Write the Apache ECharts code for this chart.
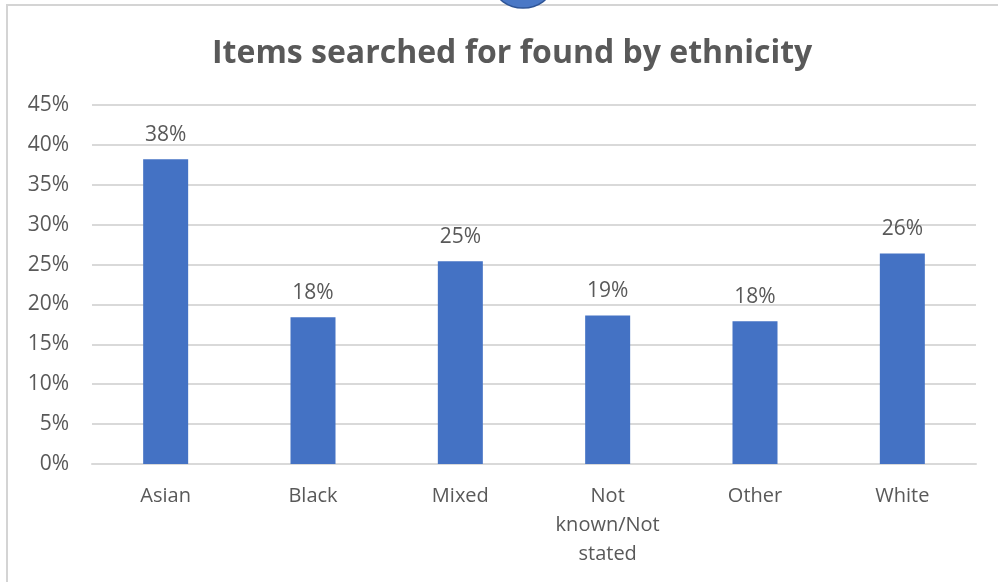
<!DOCTYPE html>
<html>
<head>
<meta charset="utf-8">
<title>Items searched for found by ethnicity</title>
<script src="https://cdn.jsdelivr.net/npm/echarts@6/dist/echarts.min.js"></script>
<style>
  html, body { margin: 0; padding: 0; background: #ffffff; }
  #chart { width: 998px; height: 582px; }
</style>
</head>
<body>
<div id="chart"></div>
<script>
// Share of searched-for items found, by ethnic group (percent)
const categories = ['Asian', 'Black', 'Mixed', 'Not known/Not stated', 'Other', 'White'];
const foundPct = [38.2, 18.4, 25.4, 18.6, 17.9, 26.4];
const titleText = 'Items searched for found by ethnicity';

const textGrey = '#595959';
const gridGrey = '#d9d9d9';
const barBlue = '#4472C4';
const font = '"Open Sans", "Noto Sans", sans-serif';

const chart = echarts.init(document.getElementById('chart'), null, { renderer: 'canvas' });

chart.setOption({
  backgroundColor: '#ffffff',
  animation: false,
  title: {
    text: titleText,
    left: 207,
    top: 33,
    textStyle: { fontFamily: font, fontSize: 32, fontWeight: 'bold', color: textGrey }
  },
  graphic: [
    // chart frame
    {
      type: 'rect',
      shape: { x: 7, y: 5, width: 1200, height: 800 },
      style: { fill: 'none', stroke: '#d4d4d4', lineWidth: 2 },
      silent: true
    },
    // selection handle peeking at the top edge
    {
      type: 'ellipse',
      shape: { cx: 523, cy: -13, rx: 28, ry: 21 },
      style: { fill: '#4a78c6', stroke: '#2f5597', lineWidth: 1.5 },
      silent: true
    }
  ],
  grid: { left: 92, right: 22, top: 105, bottom: 118, containLabel: false },
  xAxis: {
    type: 'category',
    data: categories,
    axisLine: { show: true, lineStyle: { color: gridGrey, width: 2 } },
    axisTick: { show: false },
    axisLabel: {
      fontFamily: font,
      fontSize: 20,
      color: textGrey,
      margin: 18,
      lineHeight: 29,
      interval: 0,
      formatter: v => v.split(' ').join('\n')
    }
  },
  yAxis: {
    type: 'value',
    min: 0,
    max: 45,
    interval: 5,
    axisLine: { show: false },
    axisTick: { show: false },
    splitLine: { lineStyle: { color: gridGrey, width: 2 } },
    axisLabel: {
      fontFamily: font,
      fontSize: 21,
      color: textGrey,
      margin: 23,
      formatter: '{value}%'
    }
  },
  series: [{
    type: 'bar',
    data: foundPct,
    barWidth: 45,
    itemStyle: { color: barBlue },
    label: {
      show: true,
      position: 'top',
      distance: 14,
      fontFamily: font,
      fontSize: 21,
      color: textGrey,
      formatter: p => Math.round(p.value) + '%'
    }
  }]
});
</script>
</body>
</html>
